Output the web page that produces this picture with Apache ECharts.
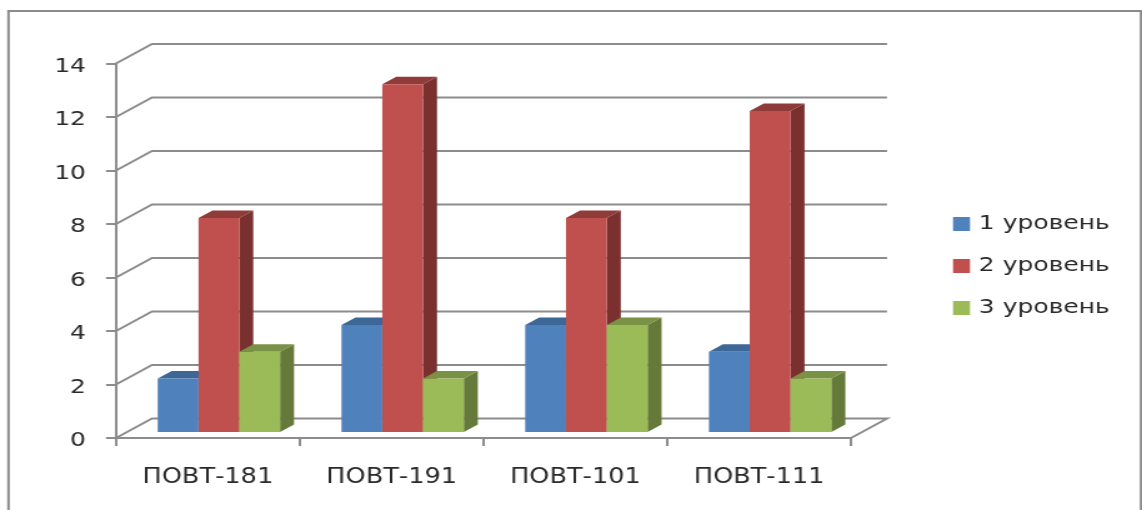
<!DOCTYPE html>
<html>
<head>
<meta charset="utf-8">
<script src="https://cdn.jsdelivr.net/npm/echarts@6/dist/echarts.min.js"></script>
<style>
html,body{margin:0;padding:0;background:#fff;overflow:hidden}
/* The chart's type is wide: the canvas is laid out narrow and widened to the full window. */
#chart{width:914px;height:510px;transform:scaleX(1.2495);transform-origin:0 0}
</style>
</head>
<body>
<div id="chart"></div>
<script>
const groups = ['ПОВТ-181', 'ПОВТ-191', 'ПОВТ-101', 'ПОВТ-111'];
const level1 = [2, 4, 4, 3];
const level2 = [8, 13, 8, 12];
const level3 = [3, 2, 4, 2];
const levelNames = ['1 уровень', '2 уровень', '3 уровень'];
const yTicks = [0, 2, 4, 6, 8, 10, 12, 14];

const S = 1.2495;
const px = v => v / S;               // horizontal window pixels to canvas pixels
const AXIS = '#8c8c8c', TEXT = '#2a2a2a';
const wallDx = px(36), wallDy = -19.5;  // offset of the back wall from the front plane
const floorDx = px(11), floorDy = -6;   // how far into the floor the bars stand
const barDx = px(14), barDy = -7.5;     // depth of each bar

const faces = [
  { front: '#4f81bd', top: '#3d6796', side: '#2f4f75' },
  { front: '#c0504d', top: '#8f3b39', side: '#79302e' },
  { front: '#9bbb59', top: '#7a9245', side: '#657a3a' }
];

function wallLines(params, api) {
  const g = params.coordSys, y = api.coord([0, api.value(1)])[1];
  const x0 = g.x, x1 = g.x + g.width;
  const pts = [[x0, y], [x0 + wallDx, y + wallDy], [x1 + wallDx, y + wallDy]];
  if (api.value(1) === 0) pts.push([x1, y]);
  return { type: 'polyline', shape: { points: pts },
    style: { stroke: AXIS, lineWidth: 2, fill: null } };
}

function barShape(level) {
  return function (params, api) {
    const idx = api.value(0);
    const c = api.coord([idx, 0]);
    const band = api.size([1, 0])[0];
    const w = band * 0.222;
    const left = c[0] + floorDx + (level - 1.5) * w;
    const right = left + w;
    const base = c[1] + floorDy;
    const top = api.coord([idx, api.value(1)])[1] + floorDy;
    const f = faces[level];
    return { type: 'group', children: [
      { type: 'polygon', shape: { points: [[right, top], [right + barDx, top + barDy], [right + barDx, base + barDy], [right, base]] }, style: { fill: f.side } },
      { type: 'polygon', shape: { points: [[left, top], [left + barDx, top + barDy], [right + barDx, top + barDy], [right, top]] }, style: { fill: f.top } },
      { type: 'rect', shape: { x: left, y: top, width: w, height: base - top }, style: { fill: f.front } }
    ] };
  };
}

const barSeries = [level1, level2, level3].map((values, level) => ({
  type: 'custom',
  name: levelNames[level],
  coordinateSystem: 'cartesian2d',
  clip: false,
  silent: true,
  z: 3 + level,
  itemStyle: { color: faces[level].front },
  encode: { x: 0, y: 1 },
  data: values.map((v, i) => [i, v]),
  renderItem: barShape(level)
}));

const chart = echarts.init(document.getElementById('chart'));
chart.setOption({
  animation: false,
  backgroundColor: '#fff',
  grid: { left: px(116), right: 914 - px(851), top: 63.5, bottom: 72, containLabel: false },
  xAxis: {
    type: 'category',
    data: groups,
    boundaryGap: true,
    axisLine: { lineStyle: { color: AXIS, width: 2 } },
    axisTick: { show: true, interval: 0, alignWithLabel: false, length: 8, lineStyle: { color: AXIS, width: 2 } },
    axisLabel: { color: TEXT, fontFamily: 'DejaVu Sans', fontSize: 20.5, margin: 29 },
    splitLine: { show: false }
  },
  yAxis: {
    type: 'value',
    min: 0,
    max: 14,
    interval: 2,
    axisLine: { show: true, lineStyle: { color: AXIS, width: 2 } },
    axisTick: { show: true, length: px(10), lineStyle: { color: AXIS, width: 2 } },
    axisLabel: {
      margin: px(30),
      formatter: '{n|{value}}',
      rich: { n: { color: TEXT, fontFamily: 'DejaVu Sans', fontSize: 20, padding: [6, 0, 0, 0] } }
    },
    splitLine: { show: false }
  },
  legend: {
    orient: 'vertical',
    left: px(953),
    top: 214,
    padding: 0,
    itemWidth: px(17),
    itemHeight: 14,
    itemGap: 22,
    icon: 'rect',
    selectedMode: false,
    data: levelNames,
    textStyle: { color: TEXT, fontFamily: 'DejaVu Sans', fontSize: 20, padding: [0, 0, 0, 2] }
  },
  graphic: [{
    type: 'polyline',
    silent: true,
    shape: { points: [[px(8.5), 512], [px(8.5), 11], [px(1141), 11], [px(1141), 512]] },
    style: { stroke: AXIS, lineWidth: 2, fill: null }
  }],
  series: [{
    type: 'custom',
    name: 'стенки',
    coordinateSystem: 'cartesian2d',
    clip: false,
    silent: true,
    z: 1,
    encode: { x: 0, y: 1 },
    data: yTicks.map(t => [0, t]),
    renderItem: wallLines
  }].concat(barSeries)
});
</script>
</body>
</html>
